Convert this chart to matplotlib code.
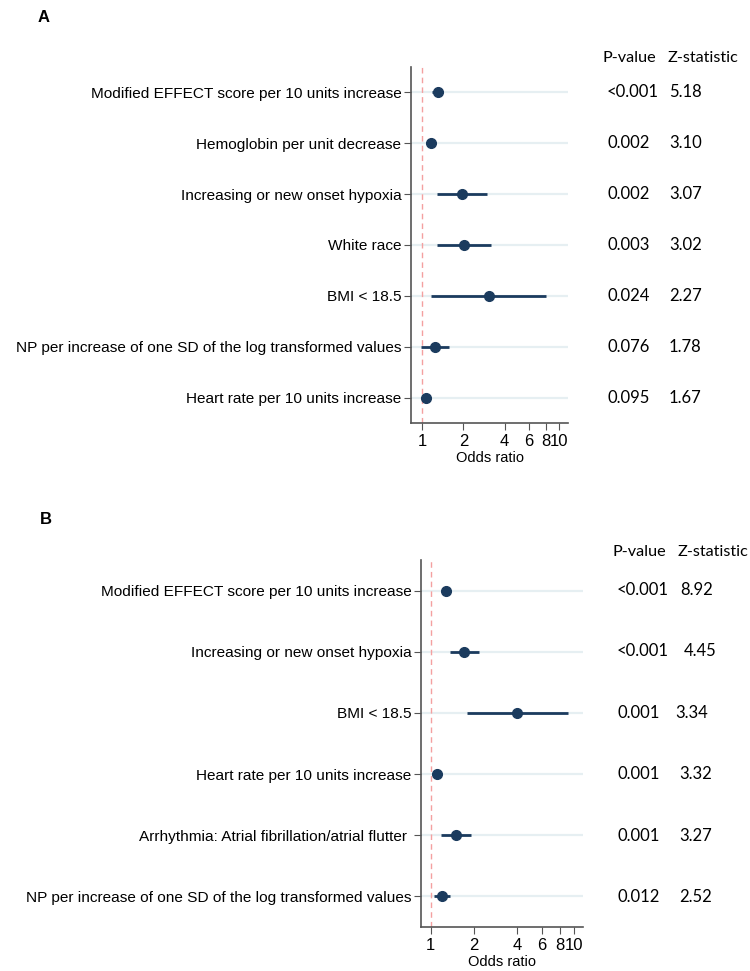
import matplotlib
matplotlib.use("Agg")
import matplotlib.pyplot as plt
import numpy as np

# panel A
labels_a = ["Modified EFFECT score per 10 units increase",
            "Hemoglobin per unit decrease",
            "Increasing or new onset hypoxia",
            "White race",
            "BMI < 18.5",
            "NP per increase of one SD of the log transformed values",
            "Heart rate per 10 units increase"]
or_a = [1.30, 1.16, 1.95, 2.03, 3.07, 1.25, 1.07]
lo_a = [1.19, 1.08, 1.28, 1.28, 1.16, 0.98, 1.02]
hi_a = [1.43, 1.24, 3.00, 3.17, 8.00, 1.58, 1.12]
p_a = ["<0.001", "0.002", "0.002", "0.003", "0.024", "0.076", "0.095"]
z_a = ["5.18", "3.10", "3.07", "3.02", "2.27", "1.78", "1.67"]

# panel B
labels_b = ["Modified EFFECT score per 10 units increase",
            "Increasing or new onset hypoxia",
            "BMI < 18.5",
            "Heart rate per 10 units increase",
            "Arrhythmia: Atrial fibrillation/atrial flutter ",
            "NP per increase of one SD of the log transformed values"]
or_b = [1.28, 1.72, 3.99, 1.10, 1.50, 1.20]
lo_b = [1.22, 1.37, 1.79, 1.06, 1.18, 1.05]
hi_b = [1.34, 2.18, 9.12, 1.14, 1.91, 1.37]
p_b = ["<0.001", "<0.001", "0.001", "0.001", "0.001", "0.012"]
z_b = ["8.92", "4.45", "3.34", "3.32", "3.27", "2.52"]

ticks = [1, 2, 4, 6, 8, 10]
tick_labels = ["1", "2", "4", "6", "8", "10"]

W, H = 750, 971
fig = plt.figure(figsize=(W / 100, H / 100), dpi=100)

navy = "#1b3b5e"
grid_c = "#e6eff2"
spine_c = "#555555"
val_font = "Lato"


def px_ax(left, right, top, bottom):
    return fig.add_axes([left / W, 1 - bottom / H, (right - left) / W, (bottom - top) / H])


def forest(ax, labels, ors, los, his, xlim):
    n = len(labels)
    y = np.arange(1, n + 1)
    ax.set_xscale("log")
    ax.set_xlim(*xlim)
    ax.set_ylim(n + 0.5, 0.5)
    for yi in y:
        ax.axhline(yi, color=grid_c, lw=1.6, zorder=0)
    ax.axvline(1, color="#f4a0a0", lw=1, ls=(0, (4, 3)), zorder=1)
    ax.hlines(y, los, his, color=navy, lw=2, zorder=2)
    ax.plot(ors, y, "o", color=navy, ms=7, zorder=3)
    ax.set_yticks(y)
    ax.set_yticklabels(labels, fontsize=11.1, family="Liberation Sans")
    ax.set_xticks(ticks)
    ax.set_xticklabels(tick_labels, fontsize=12, family="Liberation Sans")
    ax.xaxis.set_minor_locator(plt.NullLocator())
    ax.set_xlabel("Odds ratio", fontsize=10.5, family="Liberation Sans", labelpad=1)
    for s in ["top", "right"]:
        ax.spines[s].set_visible(False)
    for s in ["left", "bottom"]:
        ax.spines[s].set_color(spine_c)
        ax.spines[s].set_linewidth(1.2)
    ax.tick_params(axis="both", color=spine_c, length=5, width=0.8, pad=2)
    ax.tick_params(axis="x", pad=3)


ax_a = px_ax(411, 568, 67, 423)
forest(ax_a, labels_a, or_a, lo_a, hi_a, (0.83, 11.6))
ax_b = px_ax(421, 583, 560, 927)
forest(ax_b, labels_b, or_b, lo_b, hi_b, (0.857, 11.6))


def ftext(x, y, s, **kw):
    fig.text(x / W, 1 - y / H, s, va="center", ha="left", **kw)


ftext(38, 17, "A", fontsize=12, fontweight="bold", family="Liberation Sans")
ftext(40, 519, "B", fontsize=12, fontweight="bold", family="Liberation Sans")

ftext(602, 58, "P-value", fontsize=11.7, family=val_font)
ftext(668, 58, "Z-statistic", fontsize=11.7, family=val_font)
rows_a = [92 + 51 * i for i in range(len(p_a))]
for yy, p, z in zip(rows_a, p_a, z_a):
    ftext(607, yy, p, fontsize=12, family=val_font)
    ftext(669, yy, z, fontsize=12, family=val_font)

ftext(612, 552, "P-value", fontsize=11.7, family=val_font)
ftext(678, 552, "Z-statistic", fontsize=11.7, family=val_font)
rows_b = [590 + 61.4 * i for i in range(len(p_b))]
z_x_b = [680, 684, 675, 679, 679, 679]
for yy, p, z, zx in zip(rows_b, p_b, z_b, z_x_b):
    ftext(617, yy, p, fontsize=12, family=val_font)
    ftext(zx, yy, z, fontsize=12, family=val_font)

fig.savefig("out.png", dpi=100, facecolor="white")
